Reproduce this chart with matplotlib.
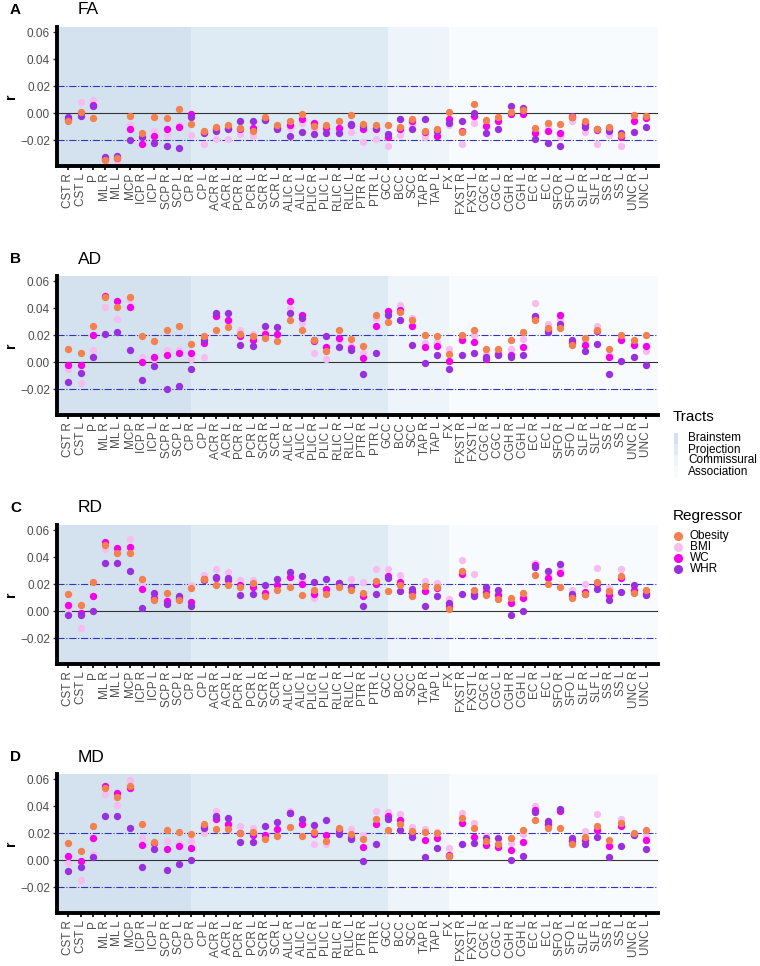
import numpy as np
import matplotlib
matplotlib.use("Agg")
import matplotlib.pyplot as plt
from matplotlib.patches import Rectangle
from matplotlib.lines import Line2D

plt.rcParams['font.family'] = ['Liberation Sans', 'DejaVu Sans']

# Tracts in plotting order
tracts = ['CST R', 'CST L', 'P', 'ML R', 'ML L', 'MCP', 'ICP R', 'ICP L', 'SCP R', 'SCP L',
          'CP R', 'CP L', 'ACR R', 'ACR L', 'PCR R', 'PCR L', 'SCR R', 'SCR L', 'ALIC R', 'ALIC L',
          'PLIC R', 'PLIC L', 'RLIC R', 'RLIC L', 'PTR R', 'PTR L',
          'GCC', 'BCC', 'SCC', 'TAP R', 'TAP L',
          'FX', 'FXST R', 'FXST L', 'CGC R', 'CGC L', 'CGH R', 'CGH L', 'EC R', 'EC L',
          'SFO R', 'SFO L', 'SLF R', 'SLF L', 'SS R', 'SS L', 'UNC R', 'UNC L']
groups = ['Brainstem', 'Projection', 'Commissural', 'Association']
group_sizes = [10, 16, 5, 17]
regressors = ['Obesity', 'BMI', 'WC', 'WHR']
metrics = ['FA', 'AD', 'RD', 'MD']
panel_letters = ['A', 'B', 'C', 'D']

# FA
fa_obesity = [-0.006, 0.001, -0.0035, -0.0345, -0.0335, -0.002, -0.015, -0.003, -0.0035, 0.003,
              -0.008, -0.013, -0.010, -0.009, -0.011, -0.0135, -0.003, -0.009, -0.0055, -0.001,
              -0.0095, -0.0085, -0.0055, -0.0015, -0.008, -0.009,
              -0.0085, -0.010, -0.004, -0.0135, -0.012,
              0.001, -0.014, 0.007, -0.005, -0.0025, 0.001, 0.002, -0.011, -0.0075,
              -0.008, -0.0025, -0.0055, -0.012, -0.010, -0.016, -0.0015, -0.002]
fa_bmi = [-0.005, 0.008, 0.010, -0.036, -0.0355, -0.009, -0.020, -0.013, -0.016, -0.009,
          -0.016, -0.023, -0.019, -0.0195, -0.0155, -0.017, -0.004, -0.010, -0.011, -0.007,
          -0.012, -0.012, -0.012, -0.014, -0.021, -0.019,
          -0.024, -0.0165, -0.008, -0.018, -0.015,
          -0.009, -0.023, -0.0075, -0.007, -0.004, 0.000, 0.002, -0.013, -0.010,
          -0.018, -0.0055, -0.014, -0.023, -0.016, -0.024, -0.004, -0.003]
fa_wc = [-0.004, 0.000, 0.006, -0.034, -0.033, -0.0115, -0.0225, -0.017, -0.012, -0.010,
         -0.001, -0.014, -0.012, -0.011, -0.012, -0.011, -0.004, -0.011, -0.0085, -0.0045,
         -0.007, -0.011, -0.011, -0.009, -0.0115, -0.012,
         -0.0175, -0.012, -0.006, -0.014, -0.017,
         -0.004, -0.013, -0.002, -0.0095, -0.0055, -0.001, -0.0005, -0.015, -0.013,
         -0.015, -0.003, -0.008, -0.0125, -0.011, -0.0175, -0.0055, -0.0035]
fa_whr = [-0.003, -0.002, 0.005, -0.0325, -0.0315, -0.020, -0.018, -0.022, -0.024, -0.0255,
          -0.003, -0.0145, -0.013, -0.012, -0.006, -0.006, -0.005, -0.0115, -0.017, -0.014,
          -0.0155, -0.015, -0.015, -0.008, -0.0095, -0.011,
          -0.0155, -0.004, -0.012, -0.004, -0.013,
          -0.007, -0.006, 0.000, -0.0145, -0.012, 0.0055, 0.004, -0.019, -0.022,
          -0.024, -0.002, -0.0105, -0.012, -0.013, -0.0145, -0.014, -0.010]

# AD
ad_obesity = [0.0098, 0.007, 0.0268, 0.048, 0.041, 0.048, 0.019, 0.0155, 0.024, 0.027,
              0.0135, 0.019, 0.024, 0.026, 0.021, 0.019, 0.018, 0.0155, 0.0315, 0.024,
              0.0165, 0.008, 0.024, 0.017, 0.012, 0.035,
              0.030, 0.037, 0.031, 0.020, 0.019,
              0.006, 0.020, 0.024, 0.010, 0.010, 0.016, 0.0225, 0.031, 0.025,
              0.025, 0.013, 0.018, 0.024, 0.010, 0.020, 0.0165, 0.020]
ad_bmi = [-0.005, -0.0158, 0.009, 0.041, 0.032, 0.046, 0.004, 0.002, 0.009, 0.009,
          0.002, 0.0035, 0.034, 0.030, 0.024, 0.021, 0.022, 0.020, 0.040, 0.029,
          0.007, 0.002, 0.016, 0.012, 0.007, 0.033,
          0.036, 0.042, 0.033, 0.014, 0.015,
          0.010, 0.018, 0.020, 0.006, 0.008, 0.010, 0.017, 0.044, 0.028,
          0.032, 0.015, 0.015, 0.027, 0.005, 0.018, 0.014, 0.008]
ad_wc = [-0.002, -0.0018, 0.020, 0.049, 0.045, 0.041, 0.000, 0.0035, 0.005, 0.007,
         0.007, 0.0145, 0.034, 0.0315, 0.019, 0.016, 0.021, 0.021, 0.045, 0.035,
         0.0155, 0.011, 0.0175, 0.0105, 0.003, 0.0265,
         0.038, 0.0385, 0.027, 0.011, 0.012,
         0.001, 0.016, 0.015, 0.0025, 0.006, 0.0055, 0.0115, 0.0335, 0.024,
         0.035, 0.014, 0.0125, 0.023, 0.0035, 0.016, 0.0125, 0.012]
ad_whr = [-0.015, -0.0078, 0.004, 0.021, 0.022, 0.009, -0.0135, -0.0025, -0.020, -0.0175,
          -0.005, 0.016, 0.036, 0.036, 0.013, 0.012, 0.027, 0.026, 0.036, 0.033,
          0.016, 0.0195, 0.011, 0.009, -0.0088, 0.007,
          0.035, 0.0315, 0.013, -0.0005, 0.005,
          -0.005, 0.005, 0.007, 0.004, 0.005, 0.004, 0.005, 0.034, 0.022,
          0.0285, 0.016, 0.008, 0.0135, -0.0085, 0.001, 0.004, -0.002]

# RD
rd_obesity = [0.013, 0.0047, 0.0217, 0.0486, 0.043, 0.043, 0.024, 0.0086, 0.0133, 0.0086,
              0.017, 0.024, 0.019, 0.019, 0.018, 0.0205, 0.011, 0.0153, 0.0175, 0.012,
              0.0158, 0.0126, 0.018, 0.0155, 0.0133, 0.022,
              0.015, 0.019, 0.011, 0.0185, 0.018,
              0.0017, 0.030, 0.0155, 0.0123, 0.0089, 0.0099, 0.0136, 0.0267, 0.020,
              0.0175, 0.0094, 0.0128, 0.0215, 0.0146, 0.026, 0.0133, 0.0155]
rd_bmi = [0.001, -0.0125, 0.011, 0.046, 0.044, 0.053, 0.020, 0.011, 0.0084, 0.0105,
          0.019, 0.027, 0.031, 0.0286, 0.023, 0.023, 0.014, 0.020, 0.027, 0.022,
          0.010, 0.014, 0.021, 0.024, 0.0215, 0.031,
          0.031, 0.0267, 0.015, 0.022, 0.0205,
          0.009, 0.038, 0.0274, 0.016, 0.013, 0.008, 0.011, 0.0356, 0.027,
          0.031, 0.0158, 0.020, 0.0318, 0.017, 0.031, 0.015, 0.014]
rd_wc = [0.0045, -0.0015, 0.0114, 0.051, 0.047, 0.0477, 0.0165, 0.0095, 0.0074, 0.0096,
         0.007, 0.024, 0.0247, 0.023, 0.0195, 0.018, 0.0133, 0.019, 0.025, 0.0198,
         0.0126, 0.016, 0.021, 0.018, 0.011, 0.020,
         0.026, 0.0215, 0.014, 0.015, 0.017,
         0.004, 0.0274, 0.013, 0.014, 0.012, 0.0057, 0.0096, 0.034, 0.0247,
         0.0284, 0.011, 0.014, 0.020, 0.012, 0.0245, 0.0158, 0.013]
rd_whr = [-0.003, -0.003, 0.000, 0.0353, 0.0353, 0.030, 0.002, 0.0136, 0.0054, 0.011,
          0.0035, 0.0227, 0.025, 0.0247, 0.012, 0.0128, 0.019, 0.024, 0.029, 0.026,
          0.0217, 0.024, 0.021, 0.018, 0.004, 0.0126,
          0.0245, 0.0146, 0.0163, 0.0035, 0.011,
          0.006, 0.013, 0.0114, 0.0178, 0.0158, -0.0025, 0.000, 0.033, 0.030,
          0.0348, 0.0128, 0.013, 0.016, 0.008, 0.014, 0.019, 0.0116]

# MD
md_obesity = [0.013, 0.0064, 0.0254, 0.0536, 0.0467, 0.0546, 0.0264, 0.0136, 0.022, 0.021,
              0.0195, 0.027, 0.023, 0.0232, 0.020, 0.0207, 0.0156, 0.0175, 0.0247, 0.0175,
              0.0205, 0.0143, 0.0237, 0.0193, 0.0153, 0.0306,
              0.022, 0.027, 0.0217, 0.0207, 0.020,
              0.003, 0.031, 0.024, 0.0143, 0.0121, 0.0163, 0.0222, 0.0296, 0.0237,
              0.0235, 0.0119, 0.0168, 0.0252, 0.0148, 0.0277, 0.020, 0.0225]
md_bmi = [-0.002, -0.015, 0.0044, 0.0486, 0.041, 0.059, 0.0163, 0.011, 0.0143, 0.012,
          0.0138, 0.020, 0.0363, 0.026, 0.0252, 0.0237, 0.018, 0.022, 0.036, 0.028,
          0.0116, 0.012, 0.021, 0.0227, 0.0188, 0.036,
          0.0356, 0.0343, 0.0244, 0.023, 0.021,
          0.0091, 0.0348, 0.0274, 0.0175, 0.013, 0.0126, 0.019, 0.040, 0.026,
          0.037, 0.015, 0.0217, 0.0343, 0.012, 0.0306, 0.019, 0.018]
md_wc = [0.0027, -0.0007, 0.0165, 0.055, 0.050, 0.053, 0.0114, 0.0126, 0.0084, 0.0106,
         0.0089, 0.0254, 0.0304, 0.027, 0.020, 0.0185, 0.0188, 0.0227, 0.035, 0.0267,
         0.019, 0.0183, 0.0225, 0.017, 0.0094, 0.027,
         0.033, 0.0294, 0.020, 0.0146, 0.0163,
         0.004, 0.0274, 0.0173, 0.011, 0.0099, 0.0074, 0.0133, 0.037, 0.0264,
         0.036, 0.014, 0.015, 0.022, 0.0101, 0.025, 0.019, 0.015]
md_whr = [-0.008, -0.005, 0.002, 0.0326, 0.033, 0.0237, -0.005, 0.0084, -0.007, -0.0027,
          0.000, 0.0237, 0.0323, 0.031, 0.0133, 0.0133, 0.0252, 0.028, 0.0346, 0.0304,
          0.0257, 0.030, 0.0193, 0.0158, -0.0007, 0.012,
          0.0304, 0.022, 0.0173, 0.0025, 0.0091,
          0.003, 0.0119, 0.0124, 0.016, 0.016, 0.000, 0.0027, 0.0353, 0.0289,
          0.038, 0.016, 0.0121, 0.0173, 0.0022, 0.0106, 0.0183, 0.0081]

panel_data = {
    'FA': {'Obesity': fa_obesity, 'BMI': fa_bmi, 'WC': fa_wc, 'WHR': fa_whr},
    'AD': {'Obesity': ad_obesity, 'BMI': ad_bmi, 'WC': ad_wc, 'WHR': ad_whr},
    'RD': {'Obesity': rd_obesity, 'BMI': rd_bmi, 'WC': rd_wc, 'WHR': rd_whr},
    'MD': {'Obesity': md_obesity, 'BMI': md_bmi, 'WC': md_wc, 'WHR': md_whr},
}

reg_colors = {'Obesity': '#F47F4F', 'BMI': '#F8BDF0', 'WC': '#F500E8', 'WHR': '#9A2FE0'}
draw_order = ['BMI', 'WC', 'WHR', 'Obesity']
group_colors = ['#D3E2EE', '#DEEBF5', '#EEF5FA', '#F8FBFE']

W, H = 760, 966
fig = plt.figure(figsize=(W / 100, H / 100), dpi=100)

x = np.arange(len(tracts))
bounds = np.concatenate([[0], np.cumsum(group_sizes)])
xlo, xhi = -0.92, len(tracts) - 0.02

for i, metric in enumerate(metrics):
    top = 27 + 249 * i
    ax = fig.add_axes([57 / W, 1 - (top + 139) / H, (658 - 57) / W, 139 / H])
    ax.set_xlim(xlo, xhi)
    ax.set_ylim(-0.0391, 0.0637)

    # tract group backgrounds
    for g in range(len(groups)):
        left = xlo if g == 0 else bounds[g]
        right = xhi if g == len(groups) - 1 else bounds[g + 1]
        ax.axvspan(left, right, color=group_colors[g], lw=0, zorder=0)

    ax.axhline(0, color='#333333', lw=0.8, zorder=1)
    ax.axhline(0.02, color='#3333BB', lw=0.8, ls='-.', zorder=1)
    ax.axhline(-0.02, color='#3333BB', lw=0.8, ls='-.', zorder=1)

    for k, reg in enumerate(draw_order):
        ax.scatter(x, panel_data[metric][reg], s=28, color=reg_colors[reg],
                   lw=0, zorder=2 + k)

    ax.set_xticks(x)
    ax.set_xticklabels(tracts, rotation=90, fontsize=8.5, color='#4D4D4D')
    ax.set_yticks([-0.02, 0.0, 0.02, 0.04, 0.06])
    ax.set_yticklabels(['\u22120.02', '0.00', '0.02', '0.04', '0.06'], fontsize=8.5, color='#4D4D4D')
    ax.tick_params(axis='x', length=3, width=1.2, pad=2, color='black')
    ax.tick_params(axis='y', length=3, width=1.0, pad=2, color='#333333')
    for side in ['top', 'right']:
        ax.spines[side].set_visible(False)
    ax.spines['left'].set_linewidth(2.8)
    ax.spines['bottom'].set_linewidth(2.8)
    ax.set_ylabel('r', fontsize=10, fontweight='bold')
    ax.yaxis.set_label_coords((18 - 57) / (658 - 57), 0.5)

    fig.text(10 / W, 1 - (top - 17) / H, panel_letters[i], fontsize=11,
             fontweight='bold', va='center', ha='left')
    fig.text(78 / W, 1 - (top - 17) / H, metric, fontsize=12.5, va='center', ha='left')

# Tracts legend
fig.text(673 / W, 1 - 417 / H, 'Tracts', fontsize=11, va='center', ha='left')
for g, name in enumerate(groups):
    yc = 438.5 + 11 * g
    fig.patches.append(Rectangle((674 / W, 1 - (yc + 5.5) / H), 4 / W, 11 / H,
                                 transform=fig.transFigure, color=group_colors[g], lw=0))
    fig.text(688 / W, 1 - yc / H, name, fontsize=8.5, va='center', ha='left')

# Regressor legend
fig.text(673 / W, 1 - 516 / H, 'Regressor', fontsize=11, va='center', ha='left')
for k, reg in enumerate(regressors):
    yc = 536 + 11 * k
    fig.lines.append(Line2D([678 / W], [1 - yc / H], transform=fig.transFigure,
                            marker='o', ms=5.5, color=reg_colors[reg], lw=0))
    fig.text(690 / W, 1 - yc / H, reg, fontsize=8.5, va='center', ha='left')

fig.savefig('out.png', dpi=100)
